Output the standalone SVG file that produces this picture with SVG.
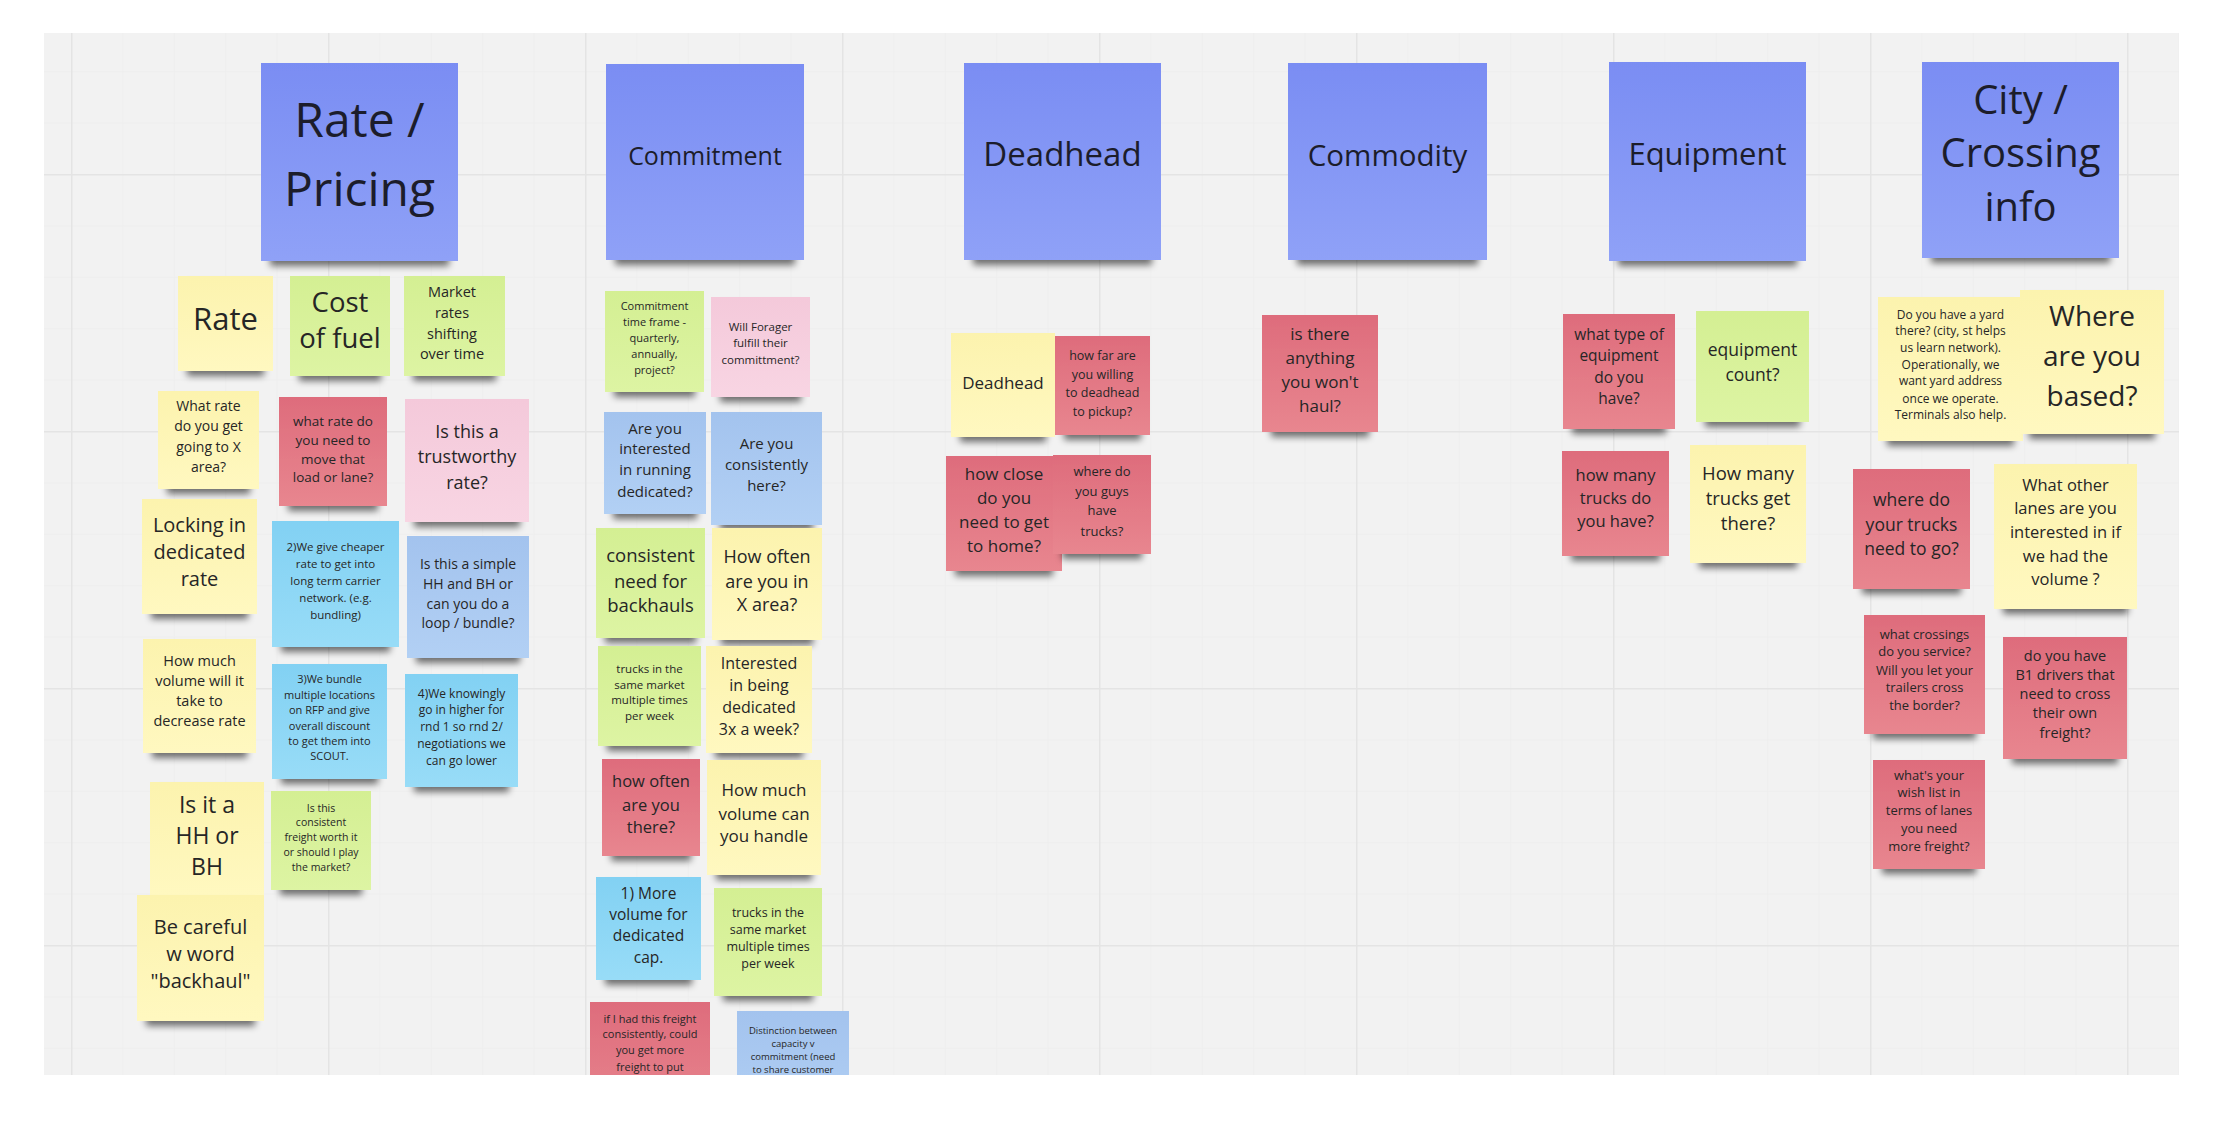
<svg xmlns="http://www.w3.org/2000/svg" width="2218" height="1124" viewBox="0 0 2218 1124">
<defs>
<style>
text{font-family:"Open Sans","Liberation Sans",sans-serif;fill:#262626;text-anchor:middle}
.hd text{fill:#1c1d2b}
.note rect{filter:url(#sh)}
.h{fill:url(#gh)}.y{fill:url(#gy)}.g{fill:url(#gg)}.r{fill:url(#gr)}.p{fill:url(#gp)}.c{fill:url(#gc)}.b{fill:url(#gb)}
</style>
<linearGradient id="gh" x1="0" y1="0" x2="0" y2="1"><stop offset="0" stop-color="#7a8df3"/><stop offset="1" stop-color="#8fa1f7"/></linearGradient>
<linearGradient id="gy" x1="0" y1="0" x2="0" y2="1"><stop offset="0" stop-color="#fcf3ae"/><stop offset="1" stop-color="#fff8c0"/></linearGradient>
<linearGradient id="gg" x1="0" y1="0" x2="0" y2="1"><stop offset="0" stop-color="#d4ef93"/><stop offset="1" stop-color="#ddf4a3"/></linearGradient>
<linearGradient id="gr" x1="0" y1="0" x2="0" y2="1"><stop offset="0" stop-color="#de6c7c"/><stop offset="1" stop-color="#e8868f"/></linearGradient>
<linearGradient id="gp" x1="0" y1="0" x2="0" y2="1"><stop offset="0" stop-color="#f4c9da"/><stop offset="1" stop-color="#f8d5e3"/></linearGradient>
<linearGradient id="gc" x1="0" y1="0" x2="0" y2="1"><stop offset="0" stop-color="#82d1f3"/><stop offset="1" stop-color="#98dcf7"/></linearGradient>
<linearGradient id="gb" x1="0" y1="0" x2="0" y2="1"><stop offset="0" stop-color="#a3c3ee"/><stop offset="1" stop-color="#b2d0f4"/></linearGradient>
<filter id="sh" x="-10%" y="-10%" width="120%" height="130%">
<feMorphology in="SourceAlpha" operator="erode" radius="9 1" result="e"/>
<feOffset in="e" dy="6" result="o"/>
<feGaussianBlur in="o" stdDeviation="3.5" result="bl"/>
<feComponentTransfer in="bl" result="s"><feFuncA type="linear" slope="0.55"/></feComponentTransfer>
<feMerge><feMergeNode in="s"/><feMergeNode in="SourceGraphic"/></feMerge>
</filter>
<pattern id="minor" patternUnits="userSpaceOnUse" x="71" y="174" width="51.4" height="51.4"><path d="M0 0.5H51.4M0.5 0V51.4" stroke="#eeeeee" stroke-width="1" fill="none"/></pattern>
<pattern id="major" patternUnits="userSpaceOnUse" x="71" y="174" width="257" height="257"><path d="M0 0.75H257M0.75 0V257" stroke="#e4e4e4" stroke-width="1.5" fill="none"/></pattern>
<clipPath id="board"><rect x="44" y="33" width="2135" height="1042"/></clipPath>
</defs>
<rect x="0" y="0" width="2218" height="1124" fill="#ffffff"/>
<g id="board-bg">
<rect x="44" y="33" width="2135" height="1042" fill="#f2f2f2"/>
<rect x="44" y="33" width="2135" height="1042" fill="url(#minor)"/>
<rect x="44" y="33" width="2135" height="1042" fill="url(#major)"/>
</g>
<g id="connectors"/>
<g id="notes" clip-path="url(#board)">
<g id="h-rate" class="note hd"><rect class="h" x="261" y="63" width="197" height="198"/><text font-size="48"><tspan x="359.5" y="137">Rate /</tspan><tspan x="359.5" y="206">Pricing</tspan></text></g>
<g id="h-commitment" class="note hd"><rect class="h" x="606" y="64" width="198" height="196"/><text x="705" y="165" font-size="25">Commitment</text></g>
<g id="h-deadhead" class="note hd"><rect class="h" x="964" y="63" width="197" height="197"/><text x="1062.5" y="166" font-size="33">Deadhead</text></g>
<g id="h-commodity" class="note hd"><rect class="h" x="1288" y="63" width="199" height="197"/><text x="1387.5" y="166" font-size="29.5">Commodity</text></g>
<g id="h-equipment" class="note hd"><rect class="h" x="1609" y="62" width="197" height="199"/><text x="1707.5" y="165" font-size="31">Equipment</text></g>
<g id="h-city" class="note hd"><rect class="h" x="1922" y="62" width="197" height="196"/><text font-size="40"><tspan x="2020.5" y="114">City /</tspan><tspan x="2020.5" y="167">Crossing</tspan><tspan x="2020.5" y="221">info</tspan></text></g>

<g id="n-rate" class="note"><rect class="y" x="178" y="276" width="95" height="95"/><text x="225.5" y="330" font-size="31">Rate</text></g>
<g id="n-fuel" class="note"><rect class="g" x="290" y="276" width="100" height="100"/><text font-size="27.5"><tspan x="340" y="312">Cost</tspan><tspan x="340" y="348">of fuel</tspan></text></g>
<g id="n-market" class="note"><rect class="g" x="404" y="276" width="101" height="100"/><text font-size="14.5"><tspan x="452" y="297">Market</tspan><tspan x="452" y="317.5">rates</tspan><tspan x="452" y="338.5">shifting</tspan><tspan x="452" y="359">over time</tspan></text></g>
<g id="n-whatrate" class="note"><rect class="y" x="158" y="391" width="101" height="98"/><text font-size="14"><tspan x="208.5" y="411">What rate</tspan><tspan x="208.5" y="431">do you get</tspan><tspan x="208.5" y="452">going to X</tspan><tspan x="208.5" y="472">area?</tspan></text></g>
<g id="n-needrate" class="note"><rect class="r" x="279" y="397" width="108" height="109"/><text font-size="13.5"><tspan x="333" y="426">what rate do</tspan><tspan x="333" y="445">you need to</tspan><tspan x="333" y="464">move that</tspan><tspan x="333" y="482">load or lane?</tspan></text></g>
<g id="n-trust" class="note"><rect class="p" x="405" y="399" width="124" height="123"/><text font-size="18"><tspan x="467" y="438">Is this a</tspan><tspan x="467" y="463">trustworthy</tspan><tspan x="467" y="489">rate?</tspan></text></g>
<g id="n-locking" class="note"><rect class="y" x="142" y="499" width="115" height="115"/><text font-size="20"><tspan x="199.5" y="532">Locking in</tspan><tspan x="199.5" y="559">dedicated</tspan><tspan x="199.5" y="586">rate</tspan></text></g>
<g id="n-cheaper" class="note"><rect class="c" x="272" y="521" width="127" height="126"/><text font-size="11.5"><tspan x="335.5" y="551">2)We give cheaper</tspan><tspan x="335.5" y="568">rate to get into</tspan><tspan x="335.5" y="585">long term carrier</tspan><tspan x="335.5" y="602">network. (e.g.</tspan><tspan x="335.5" y="619">bundling)</tspan></text></g>
<g id="n-simple" class="note"><rect class="b" x="407" y="536" width="122" height="122"/><text font-size="14"><tspan x="468" y="569">Is this a simple</tspan><tspan x="468" y="589">HH and BH or</tspan><tspan x="468" y="609">can you do a</tspan><tspan x="468" y="628">loop / bundle?</tspan></text></g>
<g id="n-volume" class="note"><rect class="y" x="143" y="639" width="113" height="114"/><text font-size="14.5"><tspan x="199.5" y="666">How much</tspan><tspan x="199.5" y="686">volume will it</tspan><tspan x="199.5" y="706">take to</tspan><tspan x="199.5" y="726">decrease rate</tspan></text></g>
<g id="n-bundle" class="note"><rect class="c" x="272" y="664" width="115" height="115"/><text font-size="11"><tspan x="329.5" y="683">3)We bundle</tspan><tspan x="329.5" y="699">multiple locations</tspan><tspan x="329.5" y="714">on RFP and give</tspan><tspan x="329.5" y="730">overall discount</tspan><tspan x="329.5" y="745">to get them into</tspan><tspan x="329.5" y="760">SCOUT.</tspan></text></g>
<g id="n-knowingly" class="note"><rect class="c" x="405" y="674" width="113" height="113"/><text font-size="12"><tspan x="461.5" y="698">4)We knowingly</tspan><tspan x="461.5" y="714">go in higher for</tspan><tspan x="461.5" y="731">rnd 1 so rnd 2/</tspan><tspan x="461.5" y="748">negotiations we</tspan><tspan x="461.5" y="765">can go lower</tspan></text></g>
<g id="n-hhbh" class="note"><rect class="y" x="150" y="782" width="114" height="114"/><text font-size="23"><tspan x="207" y="813">Is it a</tspan><tspan x="207" y="844">HH or</tspan><tspan x="207" y="875">BH</tspan></text></g>
<g id="n-worth" class="note"><rect class="g" x="271" y="791" width="100" height="99"/><text font-size="10.5"><tspan x="321" y="812">Is this</tspan><tspan x="321" y="826">consistent</tspan><tspan x="321" y="841">freight worth it</tspan><tspan x="321" y="856">or should I play</tspan><tspan x="321" y="871">the market?</tspan></text></g>
<g id="n-careful" class="note"><rect class="y" x="137" y="895" width="127" height="126"/><text font-size="20"><tspan x="200.5" y="934">Be careful</tspan><tspan x="200.5" y="961">w word</tspan><tspan x="200.5" y="988">"backhaul"</tspan></text></g>

<g id="n-timeframe" class="note"><rect class="g" x="605" y="291" width="99" height="101"/><text font-size="11"><tspan x="654.5" y="310">Commitment</tspan><tspan x="654.5" y="326">time frame -</tspan><tspan x="654.5" y="342">quarterly,</tspan><tspan x="654.5" y="358">annually,</tspan><tspan x="654.5" y="374">project?</tspan></text></g>
<g id="n-forager" class="note"><rect class="p" x="711" y="297" width="99" height="100"/><text font-size="11.5"><tspan x="760.5" y="331">Will Forager</tspan><tspan x="760.5" y="347">fulfill their</tspan><tspan x="760.5" y="364">committment?</tspan></text></g>
<g id="n-running" class="note"><rect class="b" x="604" y="412" width="102" height="102"/><text font-size="15"><tspan x="655" y="434">Are you</tspan><tspan x="655" y="454">interested</tspan><tspan x="655" y="475">in running</tspan><tspan x="655" y="497">dedicated?</tspan></text></g>
<g id="n-consistently" class="note"><rect class="b" x="711" y="412" width="111" height="113"/><text font-size="15"><tspan x="766.5" y="449">Are you</tspan><tspan x="766.5" y="470">consistently</tspan><tspan x="766.5" y="491">here?</tspan></text></g>
<g id="n-backhauls" class="note"><rect class="g" x="596" y="528" width="109" height="110"/><text font-size="18.5"><tspan x="650.5" y="562">consistent</tspan><tspan x="650.5" y="588">need for</tspan><tspan x="650.5" y="612">backhauls</tspan></text></g>
<g id="n-xarea" class="note"><rect class="y" x="712" y="528" width="110" height="112"/><text font-size="18"><tspan x="767" y="563">How often</tspan><tspan x="767" y="588">are you in</tspan><tspan x="767" y="611">X area?</tspan></text></g>
<g id="n-trucks1" class="note"><rect class="g" x="598" y="646" width="103" height="100"/><text font-size="11.5"><tspan x="649.5" y="673">trucks in the</tspan><tspan x="649.5" y="689">same market</tspan><tspan x="649.5" y="704">multiple times</tspan><tspan x="649.5" y="720">per week</tspan></text></g>
<g id="n-3x" class="note"><rect class="y" x="706" y="646" width="106" height="107"/><text font-size="16"><tspan x="759" y="669">Interested</tspan><tspan x="759" y="691">in being</tspan><tspan x="759" y="713">dedicated</tspan><tspan x="759" y="735">3x a week?</tspan></text></g>
<g id="n-howoften" class="note"><rect class="r" x="602" y="759" width="98" height="97"/><text font-size="16.5"><tspan x="651" y="787">how often</tspan><tspan x="651" y="811">are you</tspan><tspan x="651" y="833">there?</tspan></text></g>
<g id="n-handle" class="note"><rect class="y" x="707" y="760" width="114" height="115"/><text font-size="17"><tspan x="764" y="796">How much</tspan><tspan x="764" y="820">volume can</tspan><tspan x="764" y="842">you handle</tspan></text></g>
<g id="n-more" class="note"><rect class="c" x="596" y="877" width="105" height="103"/><text font-size="15.5"><tspan x="648.5" y="899">1) More</tspan><tspan x="648.5" y="920">volume for</tspan><tspan x="648.5" y="941">dedicated</tspan><tspan x="648.5" y="963">cap.</tspan></text></g>
<g id="n-trucks2" class="note"><rect class="g" x="714" y="888" width="108" height="108"/><text font-size="12.5"><tspan x="768" y="917">trucks in the</tspan><tspan x="768" y="934">same market</tspan><tspan x="768" y="951">multiple times</tspan><tspan x="768" y="968">per week</tspan></text></g>
<g id="n-ifihad" class="note"><rect class="r" x="590" y="1002" width="120" height="120"/><text font-size="11"><tspan x="650" y="1023">if I had this freight</tspan><tspan x="650" y="1038">consistently, could</tspan><tspan x="650" y="1054">you get more</tspan><tspan x="650" y="1071">freight to put</tspan></text></g>
<g id="n-distinction" class="note"><rect class="b" x="737" y="1011" width="112" height="112"/><text font-size="9.5"><tspan x="793" y="1034">Distinction between</tspan><tspan x="793" y="1047">capacity v</tspan><tspan x="793" y="1060">commitment (need</tspan><tspan x="793" y="1073">to share customer</tspan></text></g>

<g id="n-deadhead" class="note"><rect class="y" x="951" y="333" width="104" height="104"/><text x="1003" y="388.5" font-size="17">Deadhead</text></g>
<g id="n-howfar" class="note"><rect class="r" x="1055" y="336" width="95" height="99"/><text font-size="12.5"><tspan x="1102.5" y="360">how far are</tspan><tspan x="1102.5" y="379">you willing</tspan><tspan x="1102.5" y="397">to deadhead</tspan><tspan x="1102.5" y="416">to pickup?</tspan></text></g>
<g id="n-howclose" class="note"><rect class="r" x="946" y="456" width="116" height="115"/><text font-size="17"><tspan x="1004" y="480">how close</tspan><tspan x="1004" y="504">do you</tspan><tspan x="1004" y="528">need to get</tspan><tspan x="1004" y="552">to home?</tspan></text></g>
<g id="n-guys" class="note"><rect class="r" x="1053" y="455" width="98" height="99"/><text font-size="13"><tspan x="1102" y="476">where do</tspan><tspan x="1102" y="496">you guys</tspan><tspan x="1102" y="515">have</tspan><tspan x="1102" y="536">trucks?</tspan></text></g>

<g id="n-haul" class="note"><rect class="r" x="1262" y="315" width="116" height="117"/><text font-size="17"><tspan x="1320" y="340">is there</tspan><tspan x="1320" y="364">anything</tspan><tspan x="1320" y="388">you won't</tspan><tspan x="1320" y="412">haul?</tspan></text></g>

<g id="n-type" class="note"><rect class="r" x="1563" y="314" width="112" height="115"/><text font-size="15.5"><tspan x="1619" y="340">what type of</tspan><tspan x="1619" y="361">equipment</tspan><tspan x="1619" y="383">do you</tspan><tspan x="1619" y="404">have?</tspan></text></g>
<g id="n-count" class="note"><rect class="g" x="1696" y="311" width="113" height="111"/><text font-size="17.5"><tspan x="1752.5" y="356">equipment</tspan><tspan x="1752.5" y="381">count?</tspan></text></g>
<g id="n-manytrucks" class="note"><rect class="r" x="1562" y="451" width="107" height="105"/><text font-size="16.5"><tspan x="1615.5" y="481">how many</tspan><tspan x="1615.5" y="504">trucks do</tspan><tspan x="1615.5" y="527">you have?</tspan></text></g>
<g id="n-getthere" class="note"><rect class="y" x="1690" y="445" width="116" height="118"/><text font-size="18.5"><tspan x="1748" y="480">How many</tspan><tspan x="1748" y="505">trucks get</tspan><tspan x="1748" y="530">there?</tspan></text></g>

<g id="n-yard" class="note"><rect class="y" x="1878" y="297" width="145" height="144"/><text font-size="12"><tspan x="1950.5" y="319">Do you have a yard</tspan><tspan x="1950.5" y="335">there? (city, st helps</tspan><tspan x="1950.5" y="352">us learn network).</tspan><tspan x="1950.5" y="369">Operationally, we</tspan><tspan x="1950.5" y="385">want yard address</tspan><tspan x="1950.5" y="403">once we operate.</tspan><tspan x="1950.5" y="419">Terminals also help.</tspan></text></g>
<g id="n-based" class="note"><rect class="y" x="2020" y="290" width="144" height="144"/><text font-size="28"><tspan x="2092" y="326">Where</tspan><tspan x="2092" y="366">are you</tspan><tspan x="2092" y="406">based?</tspan></text></g>
<g id="n-needgo" class="note"><rect class="r" x="1853" y="469" width="117" height="120"/><text font-size="17.5"><tspan x="1911.5" y="506">where do</tspan><tspan x="1911.5" y="531">your trucks</tspan><tspan x="1911.5" y="555">need to go?</tspan></text></g>
<g id="n-otherlanes" class="note"><rect class="y" x="1994" y="464" width="143" height="145"/><text font-size="16.5"><tspan x="2065.5" y="491">What other</tspan><tspan x="2065.5" y="514">lanes are you</tspan><tspan x="2065.5" y="538">interested in if</tspan><tspan x="2065.5" y="562">we had the</tspan><tspan x="2065.5" y="585">volume ?</tspan></text></g>
<g id="n-crossings" class="note"><rect class="r" x="1864" y="615" width="121" height="119"/><text font-size="13"><tspan x="1924.5" y="639">what crossings</tspan><tspan x="1924.5" y="656">do you service?</tspan><tspan x="1924.5" y="675">Will you let your</tspan><tspan x="1924.5" y="692">trailers cross</tspan><tspan x="1924.5" y="710">the border?</tspan></text></g>
<g id="n-b1" class="note"><rect class="r" x="2003" y="637" width="124" height="122"/><text font-size="14.5"><tspan x="2065" y="661">do you have</tspan><tspan x="2065" y="680">B1 drivers that</tspan><tspan x="2065" y="699">need to cross</tspan><tspan x="2065" y="718">their own</tspan><tspan x="2065" y="738">freight?</tspan></text></g>
<g id="n-wishlist" class="note"><rect class="r" x="1873" y="760" width="112" height="109"/><text font-size="13"><tspan x="1929" y="780">what's your</tspan><tspan x="1929" y="797">wish list in</tspan><tspan x="1929" y="815">terms of lanes</tspan><tspan x="1929" y="833">you need</tspan><tspan x="1929" y="851">more freight?</tspan></text></g>
</g>
</svg>
